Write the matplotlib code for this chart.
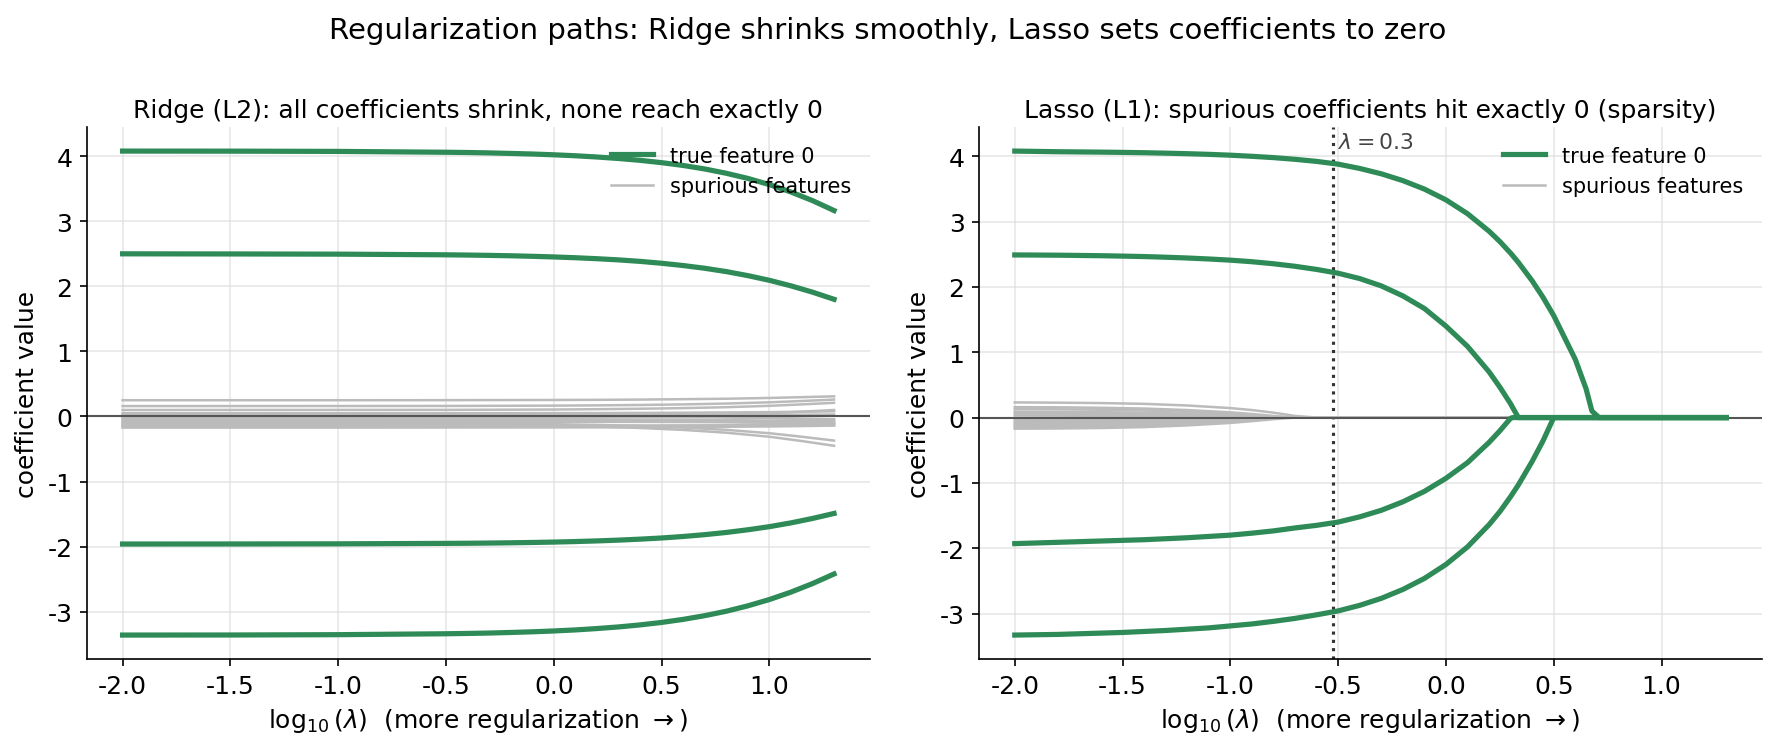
import numpy as np
import matplotlib
matplotlib.use("Agg")
import matplotlib.pyplot as plt

plt.rcParams['axes.unicode_minus'] = False

GREEN = '#2e8b57'
GRAY = '#bbbbbb'

# ---- Ridge paths ----
x_ridge = [-2.0, -1.5, -1.0, -0.5, -0.4, -0.3, -0.2, -0.1, 0.0, 0.1, 0.2, 0.3,
           0.4, 0.5, 0.6, 0.7, 0.8, 0.9, 1.0, 1.1, 1.2, 1.3]
ridge_true = [
    [4.079, 4.078, 4.074, 4.061, 4.057, 4.051, 4.043, 4.034, 4.022, 4.007, 3.988,
     3.965, 3.937, 3.901, 3.858, 3.804, 3.738, 3.659, 3.564, 3.450, 3.318, 3.165],
    [2.500, 2.498, 2.495, 2.485, 2.481, 2.476, 2.470, 2.462, 2.452, 2.440, 2.425,
     2.407, 2.384, 2.355, 2.320, 2.278, 2.227, 2.165, 2.093, 2.008, 1.911, 1.801],
    [-1.960, -1.959, -1.957, -1.950, -1.948, -1.945, -1.941, -1.936, -1.930, -1.922, -1.912,
     -1.900, -1.885, -1.867, -1.844, -1.816, -1.782, -1.741, -1.693, -1.635, -1.567, -1.490],
    [-3.359, -3.358, -3.353, -3.339, -3.334, -3.328, -3.319, -3.309, -3.296, -3.280, -3.259,
     -3.234, -3.203, -3.165, -3.118, -3.061, -2.993, -2.910, -2.813, -2.699, -2.568, -2.420],
]

x_ridge_sp = [-2.0, -1.0, -0.5, 0.0, 0.2, 0.4, 0.6, 0.8, 1.0, 1.15, 1.3]
ridge_spurious = [
    [0.25, 0.25, 0.251, 0.254, 0.256, 0.26, 0.266, 0.273, 0.285, 0.297, 0.31],
    [0.16, 0.161, 0.162, 0.167, 0.171, 0.177, 0.186, 0.199, 0.218, 0.238, 0.26],
    [0.10, 0.101, 0.102, 0.107, 0.112, 0.119, 0.129, 0.143, 0.164, 0.186, 0.21],
    [0.05, 0.05, 0.051, 0.052, 0.053, 0.055, 0.058, 0.062, 0.067, 0.073, 0.08],
    [0.02, 0.02, 0.02, 0.021, 0.021, 0.022, 0.023, 0.024, 0.026, 0.028, 0.03],
    [0.0, 0.0, -0.001, -0.003, -0.004, -0.007, -0.01, -0.016, -0.023, -0.031, -0.04],
    [-0.02, -0.019, -0.017, -0.012, -0.007, 0.0, 0.011, 0.027, 0.05, 0.074, 0.10],
    [-0.04, -0.04, -0.041, -0.043, -0.044, -0.047, -0.05, -0.056, -0.063, -0.071, -0.08],
    [-0.06, -0.06, -0.061, -0.064, -0.066, -0.07, -0.076, -0.083, -0.095, -0.107, -0.12],
    [-0.08, -0.08, -0.08, -0.081, -0.082, -0.083, -0.085, -0.088, -0.092, -0.096, -0.10],
    [-0.10, -0.102, -0.106, -0.118, -0.129, -0.146, -0.17, -0.205, -0.257, -0.311, -0.37],
    [-0.12, -0.122, -0.127, -0.142, -0.155, -0.176, -0.206, -0.249, -0.311, -0.377, -0.45],
    [-0.14, -0.14, -0.14, -0.139, -0.139, -0.138, -0.137, -0.136, -0.134, -0.132, -0.13],
    [-0.16, -0.16, -0.159, -0.156, -0.154, -0.15, -0.144, -0.137, -0.125, -0.113, -0.10],
    [-0.17, -0.17, -0.169, -0.168, -0.167, -0.165, -0.162, -0.158, -0.153, -0.147, -0.14],
    [0.03, 0.03, 0.028, 0.024, 0.02, 0.015, 0.007, -0.005, -0.022, -0.04, -0.06],
]

# ---- Lasso paths ----
x_lasso = [-2.0, -1.9, -1.8, -1.7, -1.6, -1.5, -1.4, -1.3, -1.2, -1.1, -1.0, -0.9,
           -0.8, -0.7, -0.6, -0.5, -0.4, -0.3, -0.2, -0.1, 0.0, 0.1, 0.2,
           0.25, 0.3, 0.31, 0.336, 0.4, 0.45, 0.5, 0.6, 0.65, 0.677, 0.71, 1.0, 1.3]
lasso_true = [
    [4.08, 4.075, 4.07, 4.067, 4.064, 4.06, 4.055, 4.048, 4.04, 4.03, 4.017, 4.0,
     3.98, 3.954, 3.922, 3.88, 3.814, 3.732, 3.628, 3.498, 3.333, 3.121, 2.853,
     2.695, 2.517, 2.478, 2.375, 2.093, 1.842, 1.56, 0.89, 0.44, 0.10, 0.0, 0.0, 0.0],
    [2.49, 2.488, 2.486, 2.482, 2.478, 2.472, 2.465, 2.455, 2.443, 2.428, 2.41, 2.386,
     2.355, 2.316, 2.268, 2.21, 2.128, 2.016, 1.863, 1.67, 1.40, 1.09, 0.70,
     0.466, 0.21, 0.15, 0.0, 0.0, 0.0, 0.0, 0.0, 0.0, 0.0, 0.0, 0.0, 0.0],
    [-1.93, -1.92, -1.91, -1.90, -1.89, -1.88, -1.87, -1.855, -1.84, -1.82, -1.80, -1.77,
     -1.735, -1.69, -1.65, -1.60, -1.52, -1.42, -1.29, -1.13, -0.93, -0.69, -0.38,
     -0.203, -0.01, 0.0, 0.0, 0.0, 0.0, 0.0, 0.0, 0.0, 0.0, 0.0, 0.0, 0.0],
    [-3.33, -3.325, -3.32, -3.31, -3.30, -3.29, -3.275, -3.26, -3.24, -3.22, -3.19, -3.16,
     -3.12, -3.075, -3.02, -2.96, -2.875, -2.768, -2.632, -2.463, -2.249, -1.98, -1.64,
     -1.44, -1.21, -1.16, -1.03, -0.67, -0.358, 0.0, 0.0, 0.0, 0.0, 0.0, 0.0, 0.0],
]

x_lasso_sp = [-2.0, -1.8, -1.6, -1.4, -1.2, -1.0, -0.9, -0.8, -0.7, -0.6, 1.3]
lasso_spurious = [
    [0.232, 0.228, 0.222, 0.21, 0.185, 0.145, 0.115, 0.075, 0.025, 0.0, 0.0],
    [0.16, 0.157, 0.15, 0.138, 0.115, 0.08, 0.055, 0.025, 0.0, 0.0, 0.0],
    [0.13, 0.127, 0.12, 0.108, 0.088, 0.055, 0.035, 0.0, 0.0, 0.0, 0.0],
    [0.09, 0.088, 0.083, 0.074, 0.058, 0.033, 0.015, 0.0, 0.0, 0.0, 0.0],
    [0.06, 0.058, 0.054, 0.047, 0.036, 0.016, 0.0, 0.0, 0.0, 0.0, 0.0],
    [0.03, 0.029, 0.026, 0.021, 0.012, 0.0, 0.0, 0.0, 0.0, 0.0, 0.0],
    [-0.02, -0.019, -0.017, -0.013, -0.006, 0.0, 0.0, 0.0, 0.0, 0.0, 0.0],
    [-0.05, -0.049, -0.046, -0.04, -0.03, -0.013, 0.0, 0.0, 0.0, 0.0, 0.0],
    [-0.08, -0.078, -0.074, -0.066, -0.052, -0.03, -0.014, 0.0, 0.0, 0.0, 0.0],
    [-0.10, -0.098, -0.093, -0.083, -0.066, -0.038, -0.018, 0.0, 0.0, 0.0, 0.0],
    [-0.12, -0.118, -0.112, -0.10, -0.081, -0.05, -0.03, 0.0, 0.0, 0.0, 0.0],
    [-0.15, -0.147, -0.14, -0.126, -0.102, -0.064, -0.038, 0.0, 0.0, 0.0, 0.0],
    [-0.17, -0.167, -0.16, -0.146, -0.12, -0.082, -0.055, -0.025, 0.0, 0.0, 0.0],
]

lam_mark = 0.3

fig, (ax1, ax2) = plt.subplots(1, 2, figsize=(11.84, 5.013), dpi=150)
fig.subplots_adjust(left=0.049, right=0.992, top=0.83, bottom=0.122, wspace=0.14)
fig.suptitle('Regularization paths: Ridge shrinks smoothly, Lasso sets coefficients to zero',
             fontsize=14, y=0.978)


def draw(ax, xt, true_paths, xs, sp_paths, title):
    for i, path in enumerate(true_paths):
        ax.plot(xt, path, color=GREEN, lw=2.5, zorder=3,
                label='true feature 0' if i == 0 else None)
    for i, path in enumerate(sp_paths):
        ax.plot(xs, path, color=GRAY, lw=1.2, zorder=2,
                label='spurious features' if i == 0 else None)
    ax.axhline(0, color='#555555', lw=1.0, zorder=2.5)
    ax.set_title(title, fontsize=12, pad=4.5)
    ax.set_xlabel(r'$\log_{10}(\lambda)$  (more regularization $\rightarrow$)', fontsize=12)
    ax.set_ylabel('coefficient value', fontsize=12)
    ax.tick_params(labelsize=12)
    ax.grid(True, color='#dddddd', alpha=0.7, lw=0.8)
    ax.set_axisbelow(True)
    ax.spines['top'].set_visible(False)
    ax.spines['right'].set_visible(False)
    ax.legend(loc='upper right', frameon=False, fontsize=10)


draw(ax1, x_ridge, ridge_true, x_ridge_sp, ridge_spurious,
     'Ridge (L2): all coefficients shrink, none reach exactly 0')
draw(ax2, x_lasso, lasso_true, x_lasso_sp, lasso_spurious,
     'Lasso (L1): spurious coefficients hit exactly 0 (sparsity)')

xm = np.log10(lam_mark)
ax2.axvline(xm, color='#333333', ls=':', lw=1.5, zorder=1)
ax2.text(xm + 0.02, 4.22, r'$\lambda = 0.3$', color='#444444', fontsize=10.5, va='center')

fig.savefig('out.png', dpi=150)
